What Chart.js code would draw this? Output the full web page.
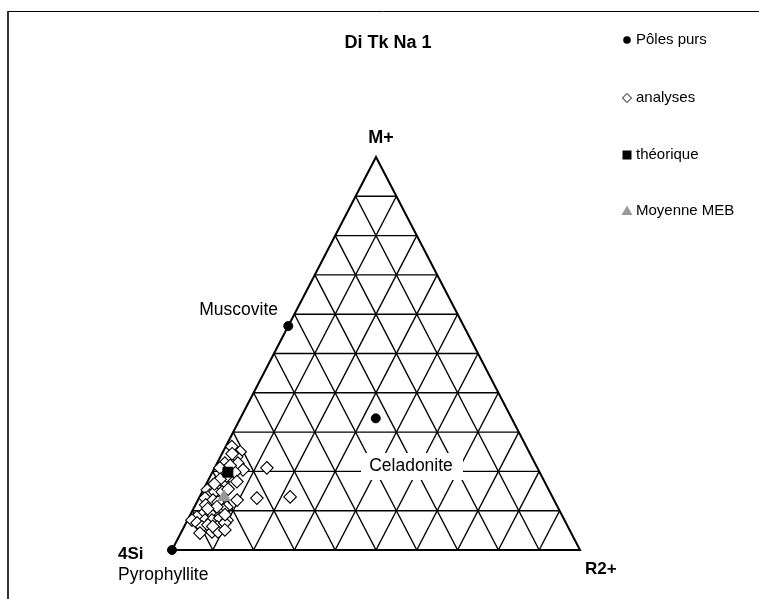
<!DOCTYPE html>
<html>
<head>
<meta charset="utf-8">
<script src="https://cdn.jsdelivr.net/npm/chart.js@4/dist/chart.umd.min.js"></script>
<style>
  html, body { margin: 0; padding: 0; background: #fff; }
  #wrap { width: 759px; height: 599px; position: relative; }
</style>
</head>
<body>
<div id="wrap"><canvas id="ternary"></canvas></div>
<script>
// ternary values in percent: M+ (apex) and R2+ (right corner), 4Si = rest
var gridSteps = [10, 20, 30, 40, 50, 60, 70, 80, 90];

var poleNames = ['Pyrophyllite', 'Muscovite', 'Celadonite'];
var poleM = [0, 57, 33.5];
var poleR = [0, 0, 33.2];

var analysesM = [26.3, 25.0, 23.7, 22.1, 22.1, 20.4, 20.9, 19.8, 17.4, 16.5, 16.0, 17.3, 15.3, 14.0,
                 14.8, 14.8, 13.2, 12.7, 12.2, 12.7, 10.9, 10.2, 9.7, 9.4, 8.9, 8.4, 7.6, 7.6, 7.6,
                 8.1, 7.6, 6.9, 5.9, 6.4, 5.9, 6.9, 4.3, 4.6, 4.6, 5.1, 20.9, 13.2, 13.5,
                 18.8, 15.5, 11.5, 11.0, 24.5, 18.0, 9.0, 21.5, 16.8, 10.5, 6.0];
var analysesR = [1.5, 4.2, 4.0, 1.9, 5.1, 7.2, 1.3, 5.5, 7.2, 1.8, 3.3, 3.9, 1.0, 2.3,
                 3.1, 4.9, 1.5, 3.7, 5.2, 9.6, 8.0, 7.4, 6.4, 4.6, 2.9, 1.9, 1.1, 4.3, 6.0,
                 7.7, 9.7, 2.7, 4.4, 5.6, 8.1, 9.5, 4.7, 7.5, 9.0, 10.4, 12.8, 14.2, 22.2,
                 4.0, 6.0, 2.5, 5.5, 2.5, 2.8, 8.5, 3.5, 2.0, 3.5, 7.0];

var theoM = [19.8];
var theoR = [3.8];
var mebM = [13.5];
var mebR = [6.0];

function toXY(m, r) {
  return { x: r + m / 2, y: m };
}
function points(ms, rs) {
  return ms.map(function (m, i) { return toXY(m, rs[i]); });
}

var datasets = [];

// grid lines, 10% steps, parallel to the three sides
gridSteps.forEach(function (v) {
  var segs = [
    [toXY(v, 0), toXY(v, 100 - v)],       // constant M+
    [toXY(0, v), toXY(100 - v, v)],       // constant R2+
    [toXY(0, 100 - v), toXY(100 - v, 0)]  // constant 4Si
  ];
  segs.forEach(function (s) {
    datasets.push({
      type: 'line', data: s, borderColor: '#000', borderWidth: 1.4,
      pointRadius: 0, fill: false, order: 10
    });
  });
});

datasets.push({
  type: 'line',
  data: [toXY(0, 0), toXY(0, 100), toXY(100, 0), toXY(0, 0)],
  borderColor: '#000', borderWidth: 2, pointRadius: 0, fill: false, order: 9
});

datasets.push({
  label: 'analyses', data: points(analysesM, analysesR),
  pointStyle: 'rectRot', pointRadius: 6.3, backgroundColor: '#fff',
  borderColor: '#000', borderWidth: 1.1, order: 4
});
datasets.push({
  label: 'Pôles purs', data: points(poleM, poleR),
  pointStyle: 'circle', pointRadius: 4.5, backgroundColor: '#000',
  borderColor: '#000', borderWidth: 1, order: 3
});
datasets.push({
  label: 'théorique', data: points(theoM, theoR),
  pointStyle: 'rect', pointRadius: 7, backgroundColor: '#000',
  borderColor: '#000', borderWidth: 1, order: 2
});
datasets.push({
  label: 'Moyenne MEB', data: points(mebM, mebR),
  pointStyle: 'triangle', pointRadius: 7, backgroundColor: '#999',
  borderColor: '#999', borderWidth: 1, order: 1
});

var FONT = '"Liberation Sans", Arial, sans-serif';

var labelsPlugin = {
  id: 'ternaryLabels',
  afterDraw: function (chart) {
    var ctx = chart.ctx;
    ctx.save();

    // frame
    ctx.strokeStyle = '#333';
    ctx.lineWidth = 2;
    ctx.beginPath();
    ctx.moveTo(8, 599); ctx.lineTo(8, 11);
    ctx.stroke();
    ctx.strokeStyle = '#000';
    ctx.lineWidth = 1;
    ctx.beginPath();
    ctx.moveTo(8, 11.5); ctx.lineTo(759, 11.5);
    ctx.stroke();

    ctx.fillStyle = '#000';
    ctx.textBaseline = 'middle';

    ctx.font = 'bold 18px ' + FONT;
    ctx.textAlign = 'center';
    ctx.fillText('Di Tk Na 1', 388, 43);
    ctx.fillText('M+', 381, 138);

    ctx.textAlign = 'left';
    ctx.font = 'bold 17px ' + FONT;
    ctx.fillText('4Si', 118, 554);
    ctx.fillText('R2+', 585, 569);

    ctx.font = '17.5px ' + FONT;
    ctx.fillText(poleNames[0], 118, 575);
    ctx.textAlign = 'right';
    ctx.fillText(poleNames[1], 278, 310);

    // Celadonite label on white box
    ctx.fillStyle = '#fff';
    ctx.fillRect(361, 453, 102, 27);
    ctx.fillStyle = '#000';
    ctx.textAlign = 'center';
    ctx.fillText(poleNames[2], 411, 466);

    // legend
    var lx = 627;
    ctx.font = '15px ' + FONT;
    ctx.textAlign = 'left';
    var items = [
      { y: 40, text: 'Pôles purs' },
      { y: 98, text: 'analyses' },
      { y: 155, text: 'théorique' },
      { y: 211, text: 'Moyenne MEB' }
    ];
    ctx.fillStyle = '#000';
    ctx.beginPath(); ctx.arc(lx, 40, 3.8, 0, Math.PI * 2); ctx.fill();
    ctx.strokeStyle = '#000'; ctx.lineWidth = 1;
    ctx.beginPath();
    ctx.moveTo(lx, 93.5); ctx.lineTo(lx + 4.5, 98); ctx.lineTo(lx, 102.5); ctx.lineTo(lx - 4.5, 98); ctx.closePath();
    ctx.stroke();
    ctx.fillRect(lx - 4.5, 150.5, 9, 9);
    ctx.fillStyle = '#999';
    ctx.beginPath();
    ctx.moveTo(lx, 205.5); ctx.lineTo(lx + 5.5, 215); ctx.lineTo(lx - 5.5, 215); ctx.closePath();
    ctx.fill();
    ctx.fillStyle = '#000';
    items.forEach(function (it) {
      ctx.fillText(it.text, lx + 9, it.y);
    });

    ctx.restore();
  }
};

var ctx = document.getElementById('ternary');
new Chart(ctx, {
  type: 'scatter',
  data: { datasets: datasets },
  options: {
    responsive: true,
    maintainAspectRatio: false,
    animation: false,
    layout: { padding: 0, autoPadding: false },
    scales: {
      x: { type: 'linear', display: false, min: -172 / 4.08, max: 587 / 4.08 },
      y: { type: 'linear', display: false, min: -49 / 3.93, max: 550 / 3.93 }
    },
    plugins: {
      legend: { display: false },
      tooltip: { enabled: false }
    },
    elements: { line: { tension: 0 } }
  },
  plugins: [labelsPlugin]
});
</script>
</body>
</html>
